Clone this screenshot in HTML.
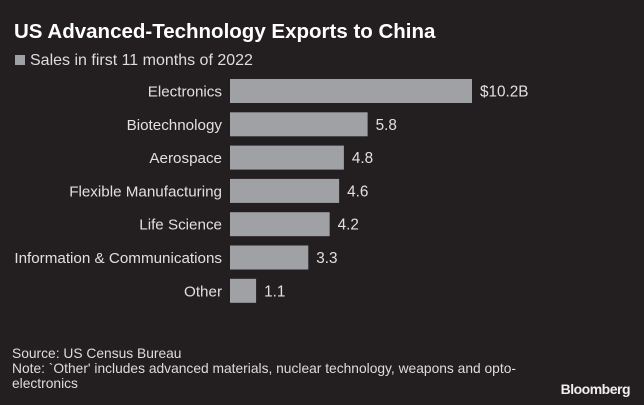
<!DOCTYPE html>
<html><head><meta charset="utf-8"><style>
html,body{margin:0;padding:0;background:#231f20;}
body{width:644px;height:405px;overflow:hidden;position:relative;font-family:"Liberation Sans",sans-serif;color:#e6e6e6;}
.t{position:absolute;white-space:nowrap;}
</style></head><body>
<div class="t" style="left:14px;top:20px;font-size:20.5px;font-weight:bold;color:#fff;">US Advanced-Technology Exports to China</div>
<div class="t" style="left:15px;top:52px;font-size:16px;color:#ddd;"><span style="display:inline-block;width:10px;height:10px;background:#a0a1a4;margin-right:5px;"></span>Sales in first 11 months of 2022</div>
<svg id="chart" width="644" height="330" style="position:absolute;left:0;top:0;"></svg>
<div class="t" style="left:12px;top:346px;font-size:13.8px;line-height:15px;color:#ddd;">Source: US Census Bureau<br>Note: `Other' includes advanced materials, nuclear technology, weapons and opto-<br>electronics</div>
<div class="t" style="right:14px;top:381px;font-size:14px;font-weight:bold;color:#eee;letter-spacing:-0.5px;">Bloomberg</div>
<script>
const categories=["Electronics","Biotechnology","Aerospace","Flexible Manufacturing","Life Science","Information & Communications","Other"];
const values=[10.2,5.8,4.8,4.6,4.2,3.3,1.1];
const valueLabels=["$10.2B","5.8","4.8","4.6","4.2","3.3","1.1"];
const svg=document.getElementById('chart');
const NS='http://www.w3.org/2000/svg';
const x0=230,scale=242/10.2;
const xs=v=>v*scale;
const ys=i=>79+i*33.3;
const bh=24;
categories.forEach((c,i)=>{
  const r=document.createElementNS(NS,'rect');
  r.setAttribute('x',x0);r.setAttribute('y',ys(i));
  r.setAttribute('width',xs(values[i]));r.setAttribute('height',bh);
  r.setAttribute('fill','#a0a1a4');
  
  
  svg.appendChild(r);
  const l=document.createElementNS(NS,'text');
  l.setAttribute('x',x0-8);l.setAttribute('y',ys(i)+bh/2+5.5);
  l.setAttribute('text-anchor','end');l.setAttribute('fill','#e0e0e0');l.setAttribute('font-size','15.2');
  l.textContent=c;
  
  
  svg.appendChild(l);
  const v=document.createElementNS(NS,'text');
  v.setAttribute('x',x0+xs(values[i])+8);v.setAttribute('y',ys(i)+bh/2+5.5);
  v.setAttribute('fill','#e0e0e0');v.setAttribute('font-size','15.3');
  v.textContent=valueLabels[i];
  
  
  svg.appendChild(v);
});
</script>
</body></html>
